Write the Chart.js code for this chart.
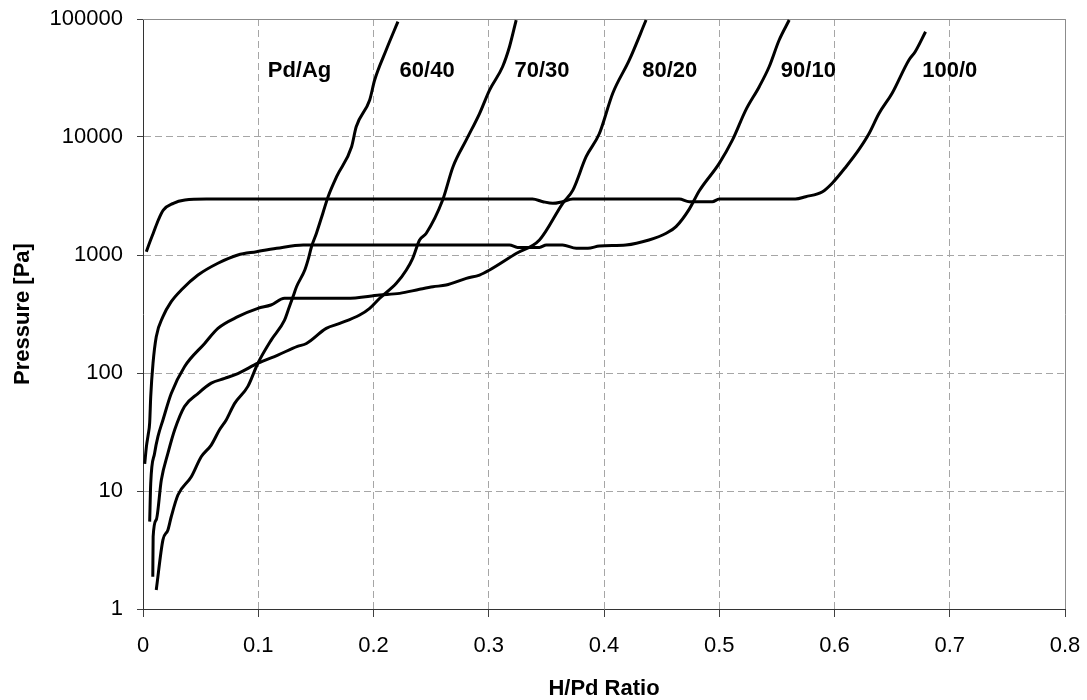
<!DOCTYPE html>
<html>
<head>
<meta charset="utf-8">
<script src="https://cdn.jsdelivr.net/npm/chart.js@4"></script>
<style>
  html, body { margin: 0; padding: 0; background: #ffffff; }
  #wrap { width: 1087px; height: 700px; }
</style>
</head>
<body>
<div id="wrap"><canvas id="c" width="1087" height="700"></canvas></div>
<script>
// ---- Axis ticks ----
const xTickValues = [0, 0.1, 0.2, 0.3, 0.4, 0.5, 0.6, 0.7, 0.8];
const xTickLabels = ['0', '0.1', '0.2', '0.3', '0.4', '0.5', '0.6', '0.7', '0.8'];
const yTickValues = [1, 10, 100, 1000, 10000, 100000];
const yTickLabels = ['1', '10', '100', '1000', '10000', '100000'];

// ---- Series: H/Pd ratio (x) and pressure in Pa (p) ----
const x_100_0 = [0.0029,0.0061,0.0089,0.0133,0.0176,0.0263,0.0364,0.055,0.338,0.347,0.3556,0.364,0.373,0.4653,0.474,0.48,0.494,0.50,0.566,0.575,0.5896,0.598,0.61,0.621,0.63,0.6386,0.65,0.6646,0.67,0.679];
const p_100_0 = [1067,1300,1530,1980,2400,2740,2920,2980,2980,2830,2740,2830,2980,2980,2830,2830,2830,2980,2980,3120,3440,4060,5600,7770,10700,15800,23500,45000,52800,78000];

const x_90_10 = [0.0015,0.003,0.0045,0.0058,0.0067,0.0087,0.0115,0.0173,0.0245,0.0332,0.0477,0.065,0.0823,0.0985,0.116,0.139,0.318,0.325,0.344,0.35,0.364,0.376,0.386,0.396,0.419,0.439,0.454,0.4625,0.474,0.4827,0.50,0.5115,0.523,0.5347,0.5433,0.552,0.5607];
const p_90_10 = [17,24,30,38,63,121,203,300,402,505,676,851,1000,1067,1140,1216,1216,1160,1160,1216,1216,1140,1140,1190,1216,1340,1530,1740,2450,3500,5980,9440,16900,26700,39400,66400,98000];

const x_80_20 = [0.0058,0.0067,0.0101,0.013,0.0173,0.0245,0.036,0.0535,0.065,0.0823,0.0997,0.111,0.1228,0.1765,0.2054,0.2227,0.24,0.2516,0.263,0.2805,0.292,0.3007,0.3238,0.344,0.3642,0.373,0.3845,0.396,0.4076,0.422,0.4365];
const p_80_20 = [5.5,11.6,21,29,40,67,113,178,239,300,353,377,430,430,458,473,512,538,557,634,676,746,1030,1340,2740,3550,6810,10700,23500,45000,98000];

const x_70_30 = [0.0085,0.0088,0.0115,0.0159,0.0217,0.0275,0.036,0.0477,0.0592,0.0708,0.0823,0.0997,0.117,0.134,0.1418,0.159,0.1707,0.188,0.1967,0.2054,0.2198,0.2285,0.234,0.24,0.2458,0.26,0.269,0.2805,0.292,0.3007,0.312,0.318,0.3238];
const p_70_30 = [1.88,4.1,5.7,12.4,21,33,52,67,82,90,99,121,142,168,178,239,263,310,353,430,575,746,938,1340,1530,2920,5600,9440,15800,25000,39400,58200,98000];

const x_60_40 = [0.0115,0.0173,0.0217,0.0245,0.0303,0.0419,0.0505,0.0592,0.0664,0.0722,0.0794,0.091,0.0997,0.1112,0.1228,0.126,0.1302,0.1332,0.1404,0.1432,0.1462,0.1505,0.156,0.1606,0.168,0.181,0.185,0.1967,0.201,0.211,0.2212];
const p_60_40 = [1.45,3.85,4.7,6.05,9.25,13.2,19.5,24.5,33,40,55,77,121,190,281,342,444,538,746,908,1175,1530,2250,3120,4610,8280,12200,20600,30400,54600,94900];

const seriesNames = ['100/0', '90/10', '80/20', '70/30', '60/40'];
const seriesX = [x_100_0, x_90_10, x_80_20, x_70_30, x_60_40];
const seriesP = [p_100_0, p_90_10, p_80_20, p_70_30, p_60_40];

// ---- In-plot labels (data coordinates) ----
const labelTexts = ['Pd/Ag', '60/40', '70/30', '80/20', '90/10', '100/0'];
const labelX = [0.1358, 0.2465, 0.3462, 0.4571, 0.5773, 0.700];
const labelP = [36000, 36000, 36000, 36000, 36000, 36000];

const FONT = "'Liberation Sans', Arial, Helvetica, sans-serif";
Chart.defaults.font.family = FONT;

const datasets = seriesNames.map((name, i) => ({
  label: name,
  data: seriesX[i].map((x, j) => ({ x: x, y: seriesP[i][j] })),
  showLine: true,
  borderColor: '#000000',
  backgroundColor: '#000000',
  borderWidth: 3,
  pointRadius: 0,
  pointHoverRadius: 0,
  cubicInterpolationMode: 'monotone',
  fill: false
}));

const framePlugin = {
  id: 'frame',
  beforeDatasetsDraw(chart) {
    const { ctx, chartArea: a } = chart;
    ctx.save();
    ctx.strokeStyle = '#8c8c8c';
    ctx.lineWidth = 1;
    ctx.beginPath();
    ctx.moveTo(a.left, a.top + 0.5);
    ctx.lineTo(a.right + 0.5, a.top + 0.5);
    ctx.lineTo(a.right + 0.5, a.bottom);
    ctx.stroke();
    ctx.restore();
  },
  afterDatasetsDraw(chart) {
    const { ctx } = chart;
    const xs = chart.scales.x, ys = chart.scales.y;
    ctx.save();
    ctx.fillStyle = '#000000';
    ctx.font = "bold 22px " + FONT;
    ctx.textAlign = 'center';
    ctx.textBaseline = 'middle';
    labelTexts.forEach((t, i) => {
      ctx.fillText(t, xs.getPixelForValue(labelX[i]), ys.getPixelForValue(labelP[i]));
    });
    ctx.restore();
  }
};

function zeroPad(s) { s.paddingTop = 0; s.paddingBottom = 0; s.paddingLeft = 0; s.paddingRight = 0; }

new Chart(document.getElementById('c'), {
  type: 'scatter',
  data: { datasets: datasets },
  plugins: [framePlugin],
  options: {
    responsive: false,
    animation: false,
    devicePixelRatio: 1,
    layout: { padding: { left: 0, top: 19, right: 22, bottom: 0 } },
    plugins: { legend: { display: false }, tooltip: { enabled: false } },
    scales: {
      x: {
        type: 'linear',
        min: 0, max: 0.8,
        afterBuildTicks: s => { s.ticks = xTickValues.map(v => ({ value: v })); },
        afterFit: s => { s.height = 91; zeroPad(s); },
        ticks: {
          autoSkip: false, maxRotation: 0,
          callback: (v, i) => xTickLabels[i],
          color: '#000000',
          font: { size: 22, family: FONT },
          padding: 16
        },
        grid: { color: '#a6a6a6', lineWidth: 1, tickLength: 8, tickColor: '#404040', tickBorderDash: [], tickWidth: 1 },
        border: { color: '#333333', width: 1, dash: [7, 4] },
        title: { display: true, text: 'H/Pd Ratio', color: '#000000',
          font: { size: 22, weight: 'bold', family: FONT, lineHeight: 1 }, padding: { top: 0, bottom: 0 } }
      },
      y: {
        type: 'logarithmic',
        min: 1, max: 100000,
        afterBuildTicks: s => { s.ticks = yTickValues.map(v => ({ value: v })); },
        afterFit: s => { s.width = 143; zeroPad(s); },
        ticks: {
          autoSkip: false,
          callback: (v, i) => yTickLabels[i],
          color: '#000000',
          font: { size: 22, family: FONT },
          padding: 14
        },
        grid: { color: '#a6a6a6', lineWidth: 1, tickLength: 6, tickColor: '#404040', tickBorderDash: [], tickWidth: 1 },
        border: { color: '#333333', width: 1, dash: [7, 4] },
        title: { display: true, text: 'Pressure [Pa]', color: '#000000',
          font: { size: 22, weight: 'bold', family: FONT }, padding: { top: 10, bottom: 0 } }
      }
    }
  }
});
</script>
</body>
</html>
